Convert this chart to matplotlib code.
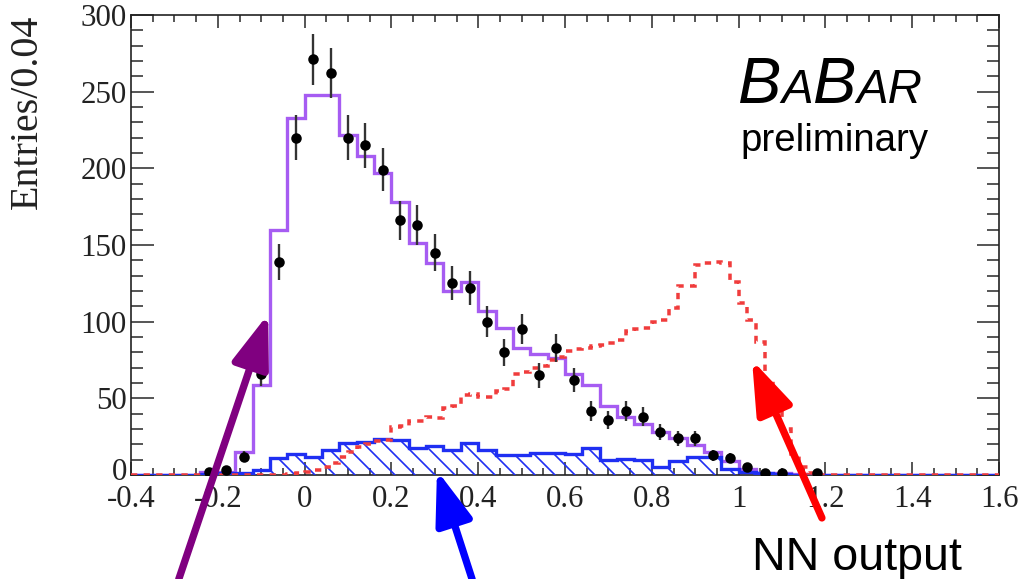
import matplotlib
matplotlib.use("Agg")
import matplotlib.pyplot as plt
import matplotlib.ticker as mticker
import matplotlib.transforms as mtransforms
import numpy as np

X_RANGE = (-0.4, 1.6)
Y_RANGE = (0, 300)

# fit components and data, 0.04 wide bins starting at -0.28
BIN_WIDTH = 0.04
HIST_START = -0.28
total_fit = [0, 2, 2, 15, 59, 160, 233, 248, 248, 222, 208, 197, 178, 151, 138, 120,
             126, 107, 96, 83, 79, 76, 66, 59, 45, 38, 33, 28, 24, 19.6, 15, 9,
             4, 1.5, 1, 0.5, 0]
background = [0, 0.5, 1, 1.5, 3.5, 11, 14, 12, 16.5, 21, 21.5, 23.5, 23, 17.5, 19, 16,
              21, 16, 13, 13, 14.5, 14.5, 13.5, 17.4, 9.5, 10.5, 9.5, 5, 9, 12, 12, 4,
              2, 1, 0.5, 0, 0]
data_counts = [0, 2, 3, 12, 66, 139, 220, 271, 262, 220, 215, 199, 166, 163, 145, 125,
               122, 100, 80, 95, 65, 83, 62, 42, 36, 42, 38, 28, 24, 24, 13, 11,
               5, 1.5, 1.5, 0, 1]

# signal MC shape, 0.02 wide bins starting at -0.04
SIG_BIN_WIDTH = 0.02
SIG_START = -0.04
signal_mc = [0.5, 1,
             2, 3, 5, 8, 12, 15, 18, 20, 22, 23,
             31, 32, 35, 35, 38, 37, 44, 45, 52, 53,
             51, 51, 55, 56, 66, 67, 70, 71, 75, 77,
             81, 82, 83, 84, 85, 86, 88, 94, 95, 96,
             100, 101, 109, 123, 123, 137, 138, 139, 138, 126,
             112, 101, 87, 62, 45, 30, 14, 5, 1]

# annotation arrows: (tail x, tail y) -> (tip x, tip y) in data units
ARROW_TOTAL = ((-0.29, -68), (-0.084, 105))
ARROW_BKG = ((0.386, -68), (0.305, 3))
ARROW_SIG = ((1.192, -28), (1.031, 75))

PURPLE = "#a65cf2"
BLUE = "#1f2ff2"
RED = "#f03c3c"
AXIS_COLOR = "#222222"


def _full_range(values, start, width):
    n_total = int(round((X_RANGE[1] - X_RANGE[0]) / width))
    n_left = int(round((start - X_RANGE[0]) / width))
    full = np.zeros(n_total)
    full[n_left:n_left + len(values)] = values
    edges = X_RANGE[0] + width * np.arange(n_total + 1)
    return full, edges


def _tick_label(value, _pos=None):
    return f"{round(value, 3):g}"


def _draw_babar(fig, x, y, big, small):
    renderer = fig.canvas.get_renderer()
    for piece, size in [("B", big), ("A", small), ("B", big), ("AR", small)]:
        t = fig.text(x, y, piece, fontsize=size, style="italic", family="Liberation Sans",
                     va="baseline", ha="left")
        x += t.get_window_extent(renderer).width / fig.bbox.width


def main():
    plt.rcParams["axes.unicode_minus"] = False
    plt.rcParams["hatch.linewidth"] = 1.0
    plt.rcParams["hatch.color"] = BLUE

    fig = plt.figure(figsize=(1022 / 120, 579 / 120), dpi=120)
    ax = fig.add_axes([131 / 1022, 104 / 579, 868 / 1022, 460 / 579])

    tot, edges = _full_range(total_fit, HIST_START, BIN_WIDTH)
    bkg, _ = _full_range(background, HIST_START, BIN_WIDTH)
    sig, sig_edges = _full_range(signal_mc, SIG_START, SIG_BIN_WIDTH)

    ax.stairs(tot, edges, color=PURPLE, linewidth=2.0, zorder=2)
    ax.stairs(bkg, edges, fill=True, facecolor="none", edgecolor=BLUE, hatch="\\\\",
              linewidth=0, zorder=3)
    ax.stairs(bkg, edges, color=BLUE, linewidth=2.0, zorder=3)
    ax.stairs(sig, sig_edges, color=RED, linewidth=2.1, linestyle=(0, (1.8, 1.8)), zorder=4)

    counts = np.array(data_counts, dtype=float)
    centers = HIST_START + BIN_WIDTH * (np.arange(len(counts)) + 0.5)
    keep = counts > 0
    ax.errorbar(centers[keep], counts[keep], yerr=np.sqrt(counts[keep]), fmt="o",
                color="black", ecolor="#333333", markersize=5.3, elinewidth=1.4,
                capsize=0, zorder=5)

    ax.set_xlim(*X_RANGE)
    ax.set_ylim(*Y_RANGE)

    ax.xaxis.set_major_locator(mticker.MultipleLocator(0.2))
    ax.xaxis.set_minor_locator(mticker.MultipleLocator(0.05))
    ax.yaxis.set_major_locator(mticker.MultipleLocator(50))
    ax.yaxis.set_minor_locator(mticker.MultipleLocator(10))
    ax.xaxis.set_major_formatter(mticker.FuncFormatter(_tick_label))
    ax.yaxis.set_major_formatter(mticker.FuncFormatter(_tick_label))

    ax.tick_params(which="both", direction="in", top=True, right=True, color=AXIS_COLOR,
                   width=0.9, labelcolor=AXIS_COLOR)
    ax.tick_params(axis="y", which="major", length=13.5, pad=2.5)
    ax.tick_params(axis="y", which="minor", length=7)
    ax.tick_params(axis="x", which="major", length=8, pad=6)
    ax.tick_params(axis="x", which="minor", length=4)
    for lab in ax.get_xticklabels() + ax.get_yticklabels():
        lab.set_family("Liberation Serif")
        lab.set_fontsize(18.5)
    for spine in ax.spines.values():
        spine.set_color(AXIS_COLOR)
        spine.set_linewidth(1.0)

    # the y "0" and x "-0.4" labels share the corner; lift the "0" a little
    fig.canvas.draw()
    zero_label = ax.get_yticklabels()[0]
    for lab in ax.get_yticklabels():
        if lab.get_text() == "0":
            zero_label = lab
    lift = mtransforms.ScaledTranslation(0, 6 / 120, fig.dpi_scale_trans)
    ax.yaxis.get_major_ticks()[ax.get_yticklabels().index(zero_label)].label1.set_transform(
        zero_label.get_transform() + lift)

    ax.set_ylabel("Entries/0.04", loc="top", family="Liberation Serif", fontsize=24,
                  color=AXIS_COLOR)
    ax.yaxis.set_label_coords(-0.098, 1.0)

    _draw_babar(fig, 738 / 1022, 1 - 103 / 579, 39, 28.5)
    fig.text(740 / 1022, 1 - 151 / 579, "preliminary", family="Liberation Sans",
             fontsize=23, va="baseline", ha="left")
    fig.text(752 / 1022, 1 - 570 / 579, "NN output", family="Liberation Sans",
             fontsize=28, va="baseline", ha="left")

    for (tail, tip), color in [(ARROW_TOTAL, "#800080"), (ARROW_BKG, "#0000ff"),
                               (ARROW_SIG, "#ff0000")]:
        ax.annotate("", xy=tip, xytext=tail, xycoords="data", textcoords="data",
                    annotation_clip=False,
                    arrowprops=dict(arrowstyle="-|>,head_length=2.7,head_width=0.95",
                                    mutation_scale=10, color=color, lw=4.4,
                                    shrinkA=0, shrinkB=0),
                    zorder=6)

    fig.savefig("out.png", dpi=120)
    plt.close(fig)


if __name__ == "__main__":
    main()
